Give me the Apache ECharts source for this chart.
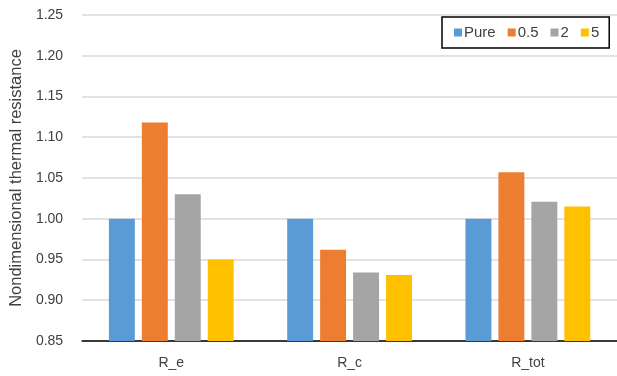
<!DOCTYPE html>
<html>
<head>
<meta charset="utf-8">
<script src="https://cdn.jsdelivr.net/npm/echarts@6/dist/echarts.min.js"></script>
<style>
  html, body { margin: 0; padding: 0; background: #fff; }
  #chart { width: 617px; height: 376px; }
</style>
</head>
<body>
<div id="chart"></div>
<script>
// Resistance components, normalised by the pure case
const categories = ['R_e', 'R_c', 'R_tot'];
const seriesNames = ['Pure', '0.5', '2', '5'];
const pureValues = [1.000, 1.000, 1.000];
const values05 = [1.118, 0.962, 1.057];
const values2 = [1.030, 0.934, 1.021];
const values5 = [0.950, 0.931, 1.015];
const colors = ['#5B9BD5', '#ED7D31', '#A5A5A5', '#FFC000'];
const yTicks = { min: 0.85, max: 1.25, step: 0.05 };

const font = '"Liberation Sans", Arial, sans-serif';
const allValues = [pureValues, values05, values2, values5];

const chart = echarts.init(document.getElementById('chart'), null, { renderer: 'canvas' });
chart.setOption({
  animation: false,
  textStyle: { fontFamily: font },
  grid: { left: 81, right: 0, top: 15, bottom: 35 },
  legend: {
    data: seriesNames,
    left: 442,
    top: 17,
    padding: [8, 10, 8, 12],
    borderColor: '#000',
    borderWidth: 1.5,
    itemWidth: 8,
    itemHeight: 8,
    itemGap: 12,
    icon: 'rect',
    textStyle: { fontSize: 15, color: '#404040', fontFamily: font, padding: [0, 0, 0, -3] }
  },
  xAxis: {
    type: 'category',
    data: categories,
    axisLine: { lineStyle: { color: '#000', width: 1.5 } },
    axisTick: { show: false },
    axisLabel: { fontSize: 14, color: '#404040', margin: 15, fontFamily: font }
  },
  yAxis: {
    type: 'value',
    min: yTicks.min,
    max: yTicks.max,
    interval: yTicks.step,
    name: 'Nondimensional thermal resistance',
    nameLocation: 'middle',
    nameGap: 56,
    nameTextStyle: { fontSize: 16.5, color: '#404040', fontFamily: font },
    axisLine: { show: false },
    axisTick: { show: false },
    axisLabel: {
      fontSize: 14, color: '#404040', margin: 19, fontFamily: font,
      formatter: v => v.toFixed(2)
    },
    splitLine: { lineStyle: { color: '#d9d9d9', width: 1.5 } }
  },
  series: seriesNames.map((name, i) => ({
    name: name,
    type: 'bar',
    data: allValues[i],
    barGap: '27%',
    barCategoryGap: '30%',
    itemStyle: { color: colors[i] }
  }))
});
</script>
</body>
</html>
